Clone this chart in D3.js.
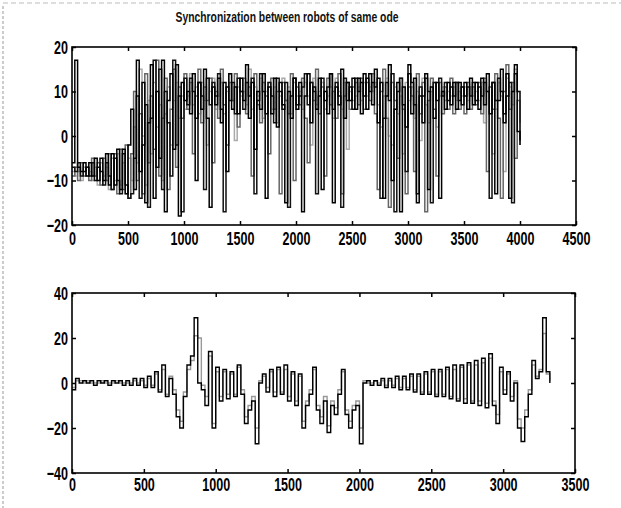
<!DOCTYPE html>
<html>
<head>
<meta charset="utf-8">
<script src="https://cdn.jsdelivr.net/npm/d3@7"></script>
<style>
  body { margin: 0; background: #fff; }
  svg { display: block; }
  .tick text { font-family: "Liberation Sans", Arial, sans-serif; font-weight: bold; font-size: 19px; }
</style>
</head>
<body>
<div id="chart"></div>
<script>
// ---- data ----
var titleText = "Synchronization between robots of same ode";

// top plot, one sample every 25 steps, x = 0..4000
var topStep = 25;
var topBlackA = [
  -6, 17, -7, -8, -6, -9, -6, -9, -5, -10, -5, -10, -4, -11, -4, -11, -3, -12, -3, -13, -2,
  6, -12, 17, -8, 12, -15, 3, 16, -14, 10, -5, 17, -17, 8, 14, -3, 16, -18, 12, 8,
  10, 5, 14, -10, 12, 6, 15, 4, -16, 11, 7, 13, 3, 12, -8, 14, 6, 11, 5, 13,
  8, 16, 4, 12, -3, 10, 6, 14, -14, 11, 5, 13, 2, 12, 7, -15, 10, 4, 13, 6,
  12, -17, 9, 14, 3, 11, 6, 13, -12, 10, 5, 14, -15, 11, 7, 15, 4, 12, 8, 13,
  6, 13, 5, 14, 6, 14, 7, 15, 3, 12, -14, 9, 16, -10, 6, 12, -17, 11, 2, 16,
  5, 13, -15, 9, 3, 14, -12, 11, 4, 12, -14, 10, 6, 12, 7, 12, 6, 12, 7, 12,
  6, 13, 7, 12, 6, 13, 7, 14, 5, 12, -13, 8, 15, 3, 14, -14, 10, 16, 1, -2
];
var topGrayB = [
  -9, -7, -10, -6, -9, -7, -10, -5, -9, -6, -11, -5, -10, -4, -12, -4, -13, -3, -12, -2, -14,
  -4, 10, -10, 5, -13, 14, -6, 9, -3, 17, -9, 4, 13, -12, 6, 15, -7, 11, 4, 14,
  6, 12, -4, 9, 15, 3, 11, 8, 13, -6, 10, 4, 15, 7, -2, 12, 8, 14, 2, 10,
  13, 5, 11, -9, 14, 7, 3, 12, 9, -4, 13, 6, 10, -13, 12, 8, 5, 14, -10, 11,
  7, 13, 4, -6, 12, 8, 15, 5, 11, -9, 13, 7, 10, 4, 14, -13, 9, 12, 6, 11,
  12, 7, 13, 6, 12, 8, 14, 5, -12, 10, 15, 4, -16, 12, 8, -5, 13, 6, -13, 11,
  9, -8, 14, 5, 12, -17, 8, 13, 6, -9, 12, 5, 11, 6, 13, 5, 12, 6, 11, 5,
  12, 6, 11, 7, 12, 5, 13, -8, 11, 6, 14, 4, -14, 10, 16, 6, 12, -5, 8, 3
];
var topLightC = [
  -8, -9, -8, -10, -7, -9, -8, -10, -7, -11, -6, -9, -7, -12, -5, -10, -4, -11, -6, -13, -5,
  -10, 2, -6, 15, 0, -11, 8, -4, 12, 2, 7, -10, 5, 11, -2, 8, 12, 4, 9, 6,
  9, 14, 7, 11, 5, 12, 8, -2, 10, 13, 6, 9, 12, 5, 10, 14, 8, -1, 11, 9,
  10, 7, 15, 6, 11, 9, 13, 4, 10, 12, 6, 11, 3, 9, 13, 8, 11, 5, 12, 9,
  10, 6, 12, 9, -2, 13, 7, 10, 12, 6, 9, 11, 4, 13, 10, 6, 12, -3, 10, 8,
  9, 11, 8, 12, 9, 11, 10, 12, 7, 2, 9, 13, 0, -2, 11, 5, 9, -4, 12, 8,
  11, 4, 10, -1, 13, 7, 3, 10, 12, 2, 9, 11, 8, 10, 9, 11, 8, 10, 9, 11,
  8, 11, 9, 10, 8, 12, 3, 10, 11, -4, 6, 12, 9, -8, 13, 11, 7, 15, 10, -2
];
var topBlackD = [
  -7, -8, -6, -9, -8, -7, -9, -6, -10, -7, -8, -11, -6, -9, -12, -5, -10, -13, -4, -11, -14,
  -13, -5, 9, -14, -2, 7, -16, 4, 17, -7, 15, -12, 10, 3, -9, 17, -2, 9, -17, 13,
  7, 13, 10, 4, 12, 9, -12, 13, 7, 12, 9, 14, 6, -17, 11, 8, 12, 5, 13, 10,
  6, 12, 9, 13, -13, 8, 14, 10, 5, 12, 9, 3, 13, 10, 6, 12, -16, 9, 13, 7,
  9, 11, 14, 7, 12, 10, -13, 9, 13, 8, 11, 14, 6, 12, 9, -16, 13, 8, 11, 6,
  13, 10, 12, 9, 13, 10, 12, 11, 13, -14, 4, 12, 8, 14, -17, 10, 13, 7, -8, 14,
  12, 7, -13, 11, 9, 13, 10, -15, 12, 8, 13, 9, 12, 8, 11, 9, 12, 8, 11, 9,
  11, 9, 12, 8, 11, 9, 12, 10, -14, 12, 8, 13, 10, 5, 9, 12, -15, 14, 10, -1
];

// bottom plot, one sample every 25 steps, x = 0..3325
var bottomStep = 25;
var bottomBlack = [
  -3, 2, 0, 1, 0, 1, -1, 1, 0, 1, -1, 1, 0, 1, -1, 1, -1, 2, -1, 2, -2,
  3, -2, 5, -4, 8, -6, 2, -5, -15, -20, -6, 8, 12, 29, 0, -3, -10, 14, -20, 7,
  -8, 6, -7, 5, -6, 8, -5, -18, -12, -8, -27, 0, 4, -4, 6, -6, 7, -5, 8, -8,
  5, -10, 4, -20, -10, -5, 7, -12, -18, -8, -22, -10, -14, -5, 6, -14, -20, -12, -10, -27,
  0, 1, -1, 1, -1, 2, -2, 2, -2, 3, -3, 3, -3, 4, -4, 4, -5, 5, -5, 6,
  -6, 6, -6, 7, -7, 8, -8, 8, -9, 9, -9, 10, -10, 11, -11, 13, -10, -18, 7, -5,
  5, -8, 0, -20, -26, -15, -5, 10, 2, 5, 29, 5, 0
];
var bottomGray = [
  -2, 1, 1, 0, 1, 0, 0, 0, 1, 0, 0, 0, 1, 0, 0, 0, 0, 1, 0, 1, -1,
  2, -1, 4, -3, 6, -5, 3, -3, -12, -17, -4, 6, 10, 21, 20, -1, -6, 12, -18, 5,
  -6, 5, -5, 4, -5, 7, -3, -15, -10, -6, -20, 1, 3, -2, 5, -4, 6, -4, 6, -6,
  4, -8, 3, -17, -8, -3, 6, -10, -15, -6, -19, -8, -11, -3, 5, -12, -17, -10, -8, -20,
  1, 0, 0, 1, 0, 1, -1, 1, -1, 2, -2, 2, -2, 3, -3, 3, -4, 4, -4, 5,
  -5, 5, -5, 6, -6, 6, -7, 7, -7, 8, -8, 8, -8, 9, -9, 11, -8, -14, 5, -3,
  4, -6, 1, -16, -20, -12, -3, 8, 3, 6, 22, 4, 1
];

var topXTicks = [0, 500, 1000, 1500, 2000, 2500, 3000, 3500, 4000, 4500];
var topYTicks = [-20, -10, 0, 10, 20];
var bottomXTicks = [0, 500, 1000, 1500, 2000, 2500, 3000, 3500];
var bottomYTicks = [-40, -20, 0, 20, 40];

// ---- drawing ----
var width = 621, height = 508;
var squeeze = 0.66; // scanned digits are tall and narrow

var svg = d3.select("#chart").append("svg")
    .attr("width", width)
    .attr("height", height);

// scanner edges
svg.append("line")
  .attr("x1", 3).attr("x2", 3).attr("y1", 6).attr("y2", height)
  .attr("stroke", "#999").attr("stroke-width", 1).attr("stroke-dasharray", "3,2");
svg.append("line")
  .attr("x1", 3).attr("x2", width).attr("y1", 3).attr("y2", 3)
  .attr("stroke", "#bbb").attr("stroke-width", 1).attr("stroke-dasharray", "5,3");

svg.append("text")
  .attr("transform", "translate(287,22) scale(0.74,1)")
  .attr("text-anchor", "middle")
  .style("font-family", "'Liberation Sans', Arial, sans-serif")
  .style("font-size", "14px")
  .style("font-weight", "bold")
  .attr("fill", "#111")
  .text(titleText);

function panel(box, xDomain, yDomain, xTicks, yTicks, xPad, series) {
  var x = d3.scaleLinear().domain(xDomain).range([box.left, box.right]);
  var y = d3.scaleLinear().domain(yDomain).range([box.bottom, box.top]);

  var g = svg.append("g");

  var line = d3.line()
    .x(d => x(d.x))
    .y(d => y(d.y))
    .curve(d3.curveStepAfter);

  series.forEach(s => {
    var pts = s.values.map((v, i) => ({x: i * s.step, y: v}));
    g.append("path")
      .datum(pts)
      .attr("fill", "none")
      .attr("stroke", s.color)
      .attr("stroke-width", s.width)
      .attr("d", line);
  });

  // box with inward ticks on all four sides, matlab style
  g.append("g")
    .attr("transform", `translate(0,${box.bottom})`)
    .call(d3.axisBottom(x).tickValues(xTicks).tickSize(-4).tickPadding(xPad).tickFormat(d3.format("d")))
    .call(a => a.select(".domain").remove())
    .selectAll(".tick text").attr("transform", `scale(${squeeze},1)`);
  g.append("g")
    .attr("transform", `translate(0,${box.top})`)
    .call(d3.axisTop(x).tickValues(xTicks).tickSize(-4).tickFormat(""))
    .call(a => a.select(".domain").remove());
  g.append("g")
    .attr("transform", `translate(${box.left},0)`)
    .call(d3.axisLeft(y).tickValues(yTicks).tickSize(-4).tickPadding(6).tickFormat(d3.format("d")))
    .call(a => a.select(".domain").remove())
    .selectAll(".tick text").attr("transform", `scale(${squeeze},1)`);
  g.append("g")
    .attr("transform", `translate(${box.right},0)`)
    .call(d3.axisRight(y).tickValues(yTicks).tickSize(-4).tickFormat(""))
    .call(a => a.select(".domain").remove());

  g.selectAll(".tick line").attr("stroke", "#000").attr("stroke-width", 1.5);
  g.selectAll(".tick text").attr("fill", "#000");

  g.append("rect")
    .attr("x", box.left).attr("y", box.top)
    .attr("width", box.right - box.left)
    .attr("height", box.bottom - box.top)
    .attr("fill", "none")
    .attr("stroke", "#000")
    .attr("stroke-width", 1.6);
}

panel({left: 72, right: 576, top: 47, bottom: 225}, [0, 4500], [-20, 20], topXTicks, topYTicks, 7, [
  {values: topLightC, step: topStep, color: "#aaa", width: 1.5},
  {values: topGrayB, step: topStep, color: "#666", width: 1.5},
  {values: topBlackD, step: topStep, color: "#111", width: 1.5},
  {values: topBlackA, step: topStep, color: "#000", width: 1.5}
]);

panel({left: 72, right: 575, top: 293, bottom: 473}, [0, 3500], [-40, 40], bottomXTicks, bottomYTicks, 5, [
  {values: bottomGray, step: bottomStep, color: "#999", width: 1.4},
  {values: bottomBlack, step: bottomStep, color: "#000", width: 1.4}
]);
</script>
</body>
</html>
